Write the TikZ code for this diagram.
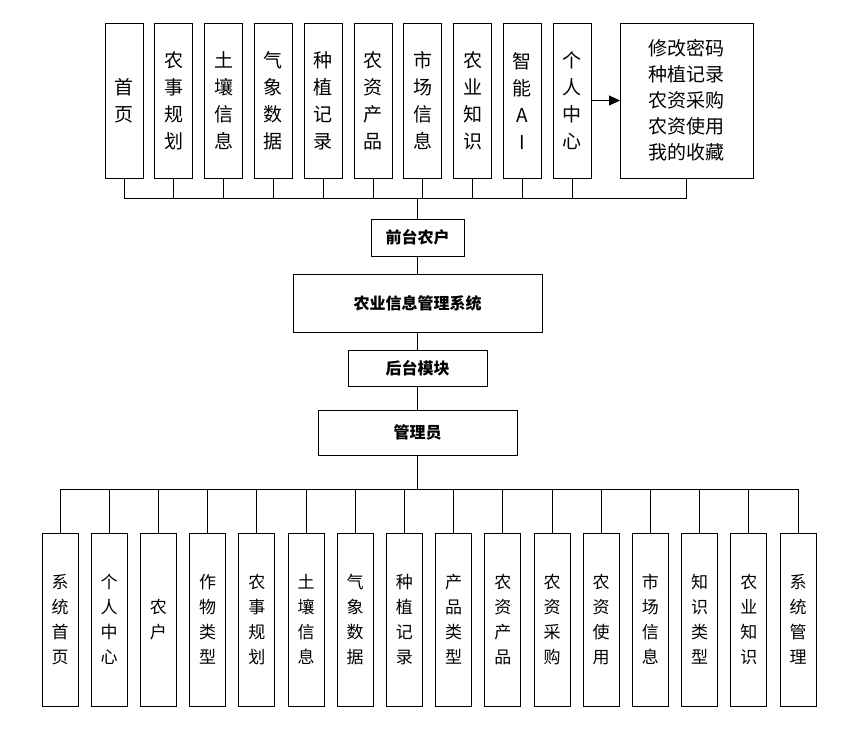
\documentclass[tikz,border=0pt]{standalone}
\usepackage{fontspec}
\setmainfont{Noto Sans CJK SC}
\usetikzlibrary{arrows.meta}
\begin{document}
\begin{tikzpicture}[x=1pt,y=-1pt,
  box/.style={draw,line width=1pt,inner sep=0pt,outer sep=0pt},
  tbox/.style={box,minimum width=38pt,minimum height=155pt,font=\fontsize{19}{27}\selectfont,align=center},
  bbox/.style={box,minimum width=36pt,minimum height=173pt,font=\fontsize{17}{25}\selectfont,align=center},
  mbox/.style={box,font=\bfseries\fontsize{16}{18}\selectfont},
  ln/.style={line width=1pt}]
\useasboundingbox (0,0) rectangle (864,732);
\foreach \t [count=\i] in {首\\页,农\\事\\规\\划,土\\壤\\信\\息,气\\象\\数\\据,种\\植\\记\\录,农\\资\\产\\品,市\\场\\信\\息,农\\业\\知\\识,智\\能\\A\\I,个\\人\\中\\心}{
  \node[tbox] (t\i) at ({124+49.8*(\i-1)},100.5) {\t};
}
\node[box,minimum width=133pt,minimum height=155pt,font=\fontsize{19}{26}\selectfont,align=center] (big) at (686.5,100.5) {修改密码\\种植记录\\农资采购\\农资使用\\我的收藏};
\draw[ln,-{Triangle[length=11pt,width=10pt]}] (t10.east) -- (big.west);
\node[mbox,minimum width=93pt,minimum height=37pt] (qt) at (417.5,237.5) {前台农户};
\node[mbox,minimum width=249pt,minimum height=58pt] (sys) at (417.5,303) {农业信息管理系统};
\node[mbox,minimum width=139pt,minimum height=36pt] (ht) at (417.5,368) {后台模块};
\node[mbox,minimum width=199pt,minimum height=45pt] (adm) at (417.5,432.5) {管理员};
\coordinate (tb) at (417.5,198);
\coordinate (bb) at (417.5,489);
\draw[ln] (t1.south) |- (big.south |- tb) -- (big.south);
\foreach \i in {2,...,10} \draw[ln] (t\i.south) -- (t\i.south |- tb);
\draw[ln] (tb) -- (qt.north);
\draw[ln] (qt) -- (sys) (sys) -- (ht) (ht) -- (adm);
\draw[ln] (adm.south) -- (bb);
\foreach \t [count=\i] in {系\\统\\首\\页,个\\人\\中\\心,农\\户,作\\物\\类\\型,农\\事\\规\\划,土\\壤\\信\\息,气\\象\\数\\据,种\\植\\记\\录,产\\品\\类\\型,农\\资\\产\\品,农\\资\\采\\购,农\\资\\使\\用,市\\场\\信\\息,知\\识\\类\\型,农\\业\\知\\识,系\\统\\管\\理}{
  \node[bbox] (b\i) at ({60+49.2*(\i-1)},619.5) {\t};
}
\draw[ln] (b1.north) |- (b16.north |- bb) -- (b16.north);
\foreach \i in {2,...,15} \draw[ln] (b\i.north) -- (b\i.north |- bb);
\end{tikzpicture}
\end{document}
